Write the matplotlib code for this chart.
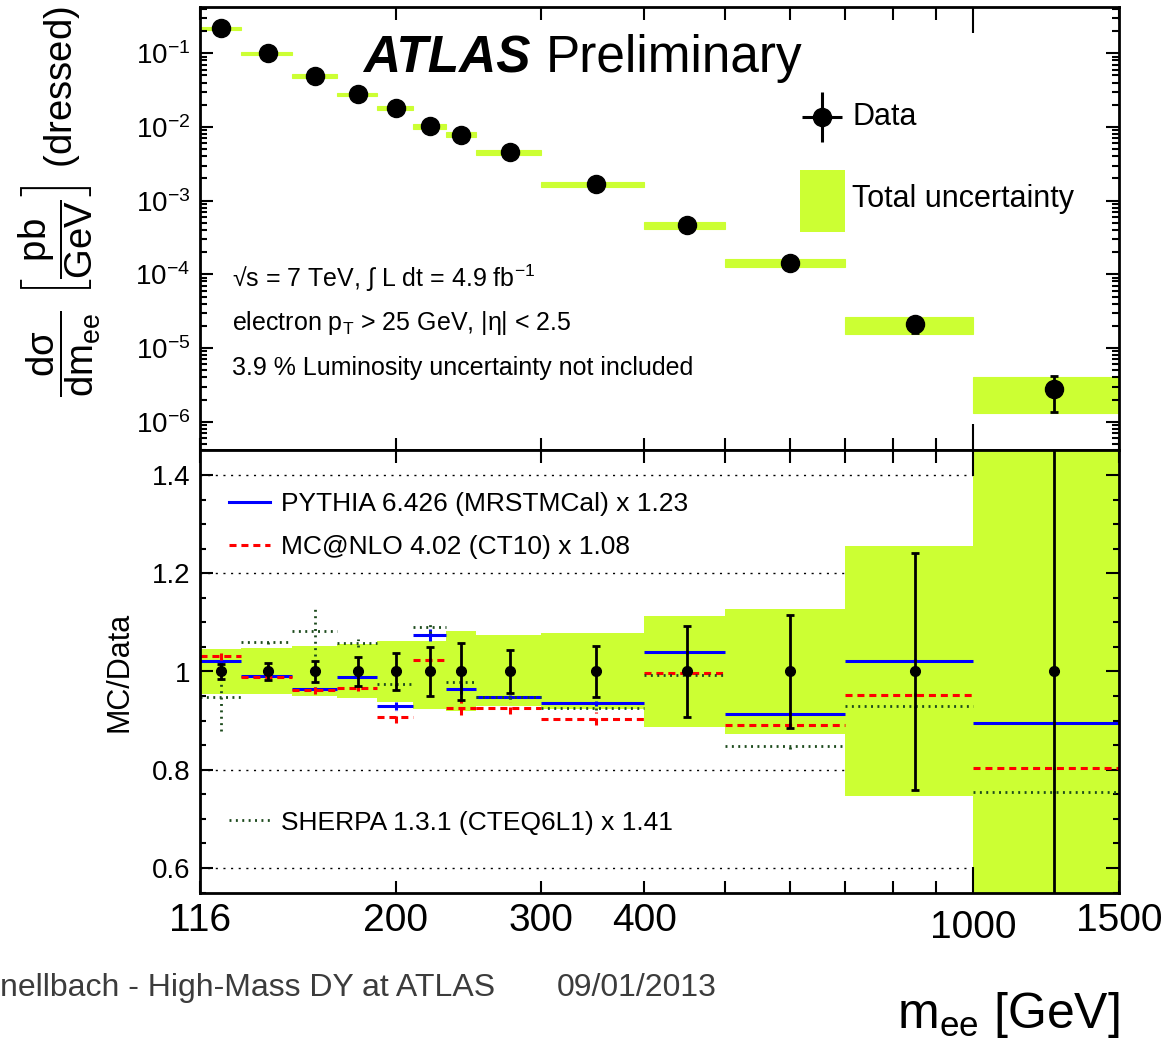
import matplotlib
matplotlib.use('Agg')
import matplotlib.pyplot as plt
import numpy as np
from matplotlib import font_manager
from matplotlib.lines import Line2D
from matplotlib.patches import Rectangle
from matplotlib.ticker import (FixedLocator, FuncFormatter, NullFormatter,
                               MultipleLocator, LogLocator)

# m_ee bin edges [GeV]
edges = [116, 130, 150, 170, 190, 210, 230, 250, 300, 400, 500, 700, 1000, 1500]

# dsigma/dm_ee [pb/GeV]
xsec = [0.218, 0.100, 0.0492, 0.0277, 0.0182, 0.0103, 0.0079, 0.00453,
        0.00168, 4.62e-4, 1.42e-4, 2.09e-5, 2.75e-6]

# relative statistical error of data
stat_rel = [0.016, 0.017, 0.022, 0.030, 0.038, 0.050, 0.058, 0.044,
            0.052, 0.093, 0.115, 0.241, 0.50]

# total uncertainty band (ratio to data)
band_hi = [1.045, 1.047, 1.051, 1.055, 1.063, 1.063, 1.083, 1.074,
           1.078, 1.113, 1.128, 1.255, 1.46]
band_lo = [0.955, 0.955, 0.950, 0.946, 0.938, 0.924, 0.919, 0.929,
           0.923, 0.887, 0.873, 0.746, 0.48]

data_ratio = [1.0] * 13

# MC / Data
pythia = [1.021, 0.990, 0.965, 0.989, 0.929, 1.074, 0.965, 0.949,
          0.935, 1.039, 0.914, 1.022, 0.896]
pythia_err = [0.005, 0.003, 0.004, 0.004, 0.008, 0.012, 0.010, 0.004,
              0.005, 0.003, 0.003, 0.003, 0.003]
mcnlo = [1.031, 0.988, 0.962, 0.967, 0.908, 1.024, 0.926, 0.925,
         0.904, 0.996, 0.891, 0.953, 0.803]
mcnlo_err = [0.008, 0.004, 0.008, 0.006, 0.012, 0.004, 0.015, 0.012,
             0.013, 0.003, 0.004, 0.003, 0.003]
sherpa = [0.948, 1.060, 1.083, 1.058, 0.974, 1.091, 0.979, 0.948,
          0.925, 0.992, 0.848, 0.929, 0.755]
sherpa_err = [0.070, 0.004, 0.052, 0.009, 0.004, 0.012, 0.006, 0.004,
              0.004, 0.003, 0.006, 0.003, 0.003]

xsec_ticks = [1e-6, 1e-5, 1e-4, 1e-3, 1e-2, 1e-1]
ratio_ticks = [0.6, 0.8, 1.0, 1.2, 1.4]
ratio_grid = [0.6, 0.8, 1.2, 1.4]
label_ticks = [116, 200, 300, 400, 1500]
minor_ticks = [116, 200, 300, 400, 500, 600, 700, 800, 900, 1500]

LIME = '#ccff33'
SHERPA_GREEN = '#1c4a1c'

plt.rcParams['font.family'] = ['Liberation Sans', 'DejaVu Sans']
plt.rcParams['mathtext.fontset'] = 'custom'
plt.rcParams['mathtext.rm'] = 'Liberation Sans'
plt.rcParams['mathtext.it'] = 'Liberation Sans:italic'
plt.rcParams['mathtext.bf'] = 'Liberation Sans:bold'
plt.rcParams['mathtext.sf'] = 'Liberation Sans'

installed = {f.name for f in font_manager.fontManager.ttflist}
footer_font = 'Liberation Sans Narrow' if 'Liberation Sans Narrow' in installed else 'Liberation Sans'
footer_size = 27 if footer_font == 'Liberation Sans Narrow' else 23

edges = np.array(edges, dtype=float)
lo_edges = edges[:-1]
widths = np.diff(edges)
centers = 0.5 * (edges[:-1] + edges[1:])
xsec = np.array(xsec)
band_hi = np.array(band_hi)
band_lo = np.array(band_lo)
stat_rel = np.array(stat_rel)

fig = plt.figure(figsize=(11.67, 10.44), dpi=100)
ax1 = fig.add_axes([200 / 1167, 1 - 450 / 1044, 919 / 1167, 443 / 1044])
ax2 = fig.add_axes([200 / 1167, 1 - 893 / 1044, 919 / 1167, 443 / 1044])

# ---- upper panel: cross section ----
ax1.bar(lo_edges, xsec * (band_hi - band_lo), bottom=xsec * band_lo, width=widths,
        align='edge', color=LIME, edgecolor=LIME, linewidth=0.8, zorder=1)
ax1.errorbar(centers, xsec, yerr=xsec * stat_rel, fmt='o', color='black', ms=13,
             elinewidth=2, capsize=3, capthick=2, zorder=3)
ax1.set_xscale('log')
ax1.set_yscale('log')
ax1.set_xlim(116, 1500)
ax1.set_ylim(4.13e-7, 0.425)
ax1.yaxis.set_major_locator(FixedLocator(xsec_ticks))
ax1.yaxis.set_minor_locator(LogLocator(base=10, subs=np.arange(2, 10)))
ax1.yaxis.set_minor_formatter(NullFormatter())

ax1.text(0.177, 0.883, 'ATLAS', transform=ax1.transAxes, fontsize=37,
         fontweight='bold', fontstyle='italic', ha='left', va='center')
ax1.text(0.3765, 0.883, 'Preliminary', transform=ax1.transAxes, fontsize=37,
         ha='left', va='center')

info = ['\u221as = 7 TeV, \u222b L dt = 4.9 fb$^{-1}$',
        r'electron p$_{\mathrm{T}}$ > 25 GeV, |$\mathrm{\eta}$| < 2.5',
        '3.9 % Luminosity uncertainty not included']
for i, line in enumerate(info):
    ax1.text(0.0348, 0.388 - i * 0.1016, line, transform=ax1.transAxes,
             fontsize=18, ha='left', va='center')

# legend of upper panel
ax1.errorbar([0.677], [0.752], xerr=[0.0218], yerr=[0.056], transform=ax1.transAxes,
             fmt='o', color='black', ms=13, elinewidth=2.2, capsize=0, clip_on=False)
ax1.text(0.7095, 0.752, 'Data', transform=ax1.transAxes, fontsize=22, va='center')
ax1.add_patch(Rectangle((0.653, 0.492), 0.049, 0.14, transform=ax1.transAxes,
                        color=LIME, linewidth=0))
ax1.text(0.7095, 0.567, 'Total uncertainty', transform=ax1.transAxes, fontsize=22,
         va='center')

# ---- lower panel: MC / data ----
for v in ratio_grid:
    ax2.axhline(v, color='black', lw=1, ls=(0, (1.5, 4)), zorder=0.5)
ax2.bar(lo_edges, band_hi - band_lo, bottom=band_lo, width=widths, align='edge',
        color=LIME, linewidth=0, zorder=1)

styles = [
    (pythia, pythia_err, 'blue', '-', 'PYTHIA 6.426 (MRSTMCal) x 1.23'),
    (mcnlo, mcnlo_err, 'red', (0, (2.3, 1.6)), 'MC@NLO 4.02 (CT10) x 1.08'),
    (sherpa, sherpa_err, SHERPA_GREEN, (0, (0.7, 1.6)), 'SHERPA 1.3.1 (CTEQ6L1) x 1.41'),
]
handles = []
for vals, errs, col, ls, lab in styles:
    vals = np.array(vals)
    errs = np.array(errs)
    lw = 2.0 if col == SHERPA_GREEN else 2.2
    ax2.hlines(vals, lo_edges, edges[1:], colors=col, linestyles=[ls], lw=lw, zorder=2)
    ax2.vlines(centers, vals - errs, vals + errs, colors=col, linestyles=[ls], lw=lw, zorder=2)
    handles.append(Line2D([], [], color=col, ls=ls, lw=lw, label=lab))

ax2.errorbar(centers, data_ratio, yerr=stat_rel, fmt='o', color='black', ms=7,
             elinewidth=2, capsize=3, capthick=2, zorder=3)

ax2.set_xscale('log')
ax2.set_xlim(116, 1500)
ax2.set_ylim(0.549, 1.451)

leg1 = ax2.legend(handles=handles[:2], loc='upper left', bbox_to_anchor=(0.032, 0.905),
                  frameon=False, fontsize=19, handlelength=1.55, handletextpad=0.4,
                  labelspacing=0.72, borderpad=0, borderaxespad=0)
ax2.add_artist(leg1)
ax2.legend(handles=handles[2:], loc='upper left', bbox_to_anchor=(0.032, 0.186),
           frameon=False, fontsize=19, handlelength=1.55, handletextpad=0.4,
           borderpad=0, borderaxespad=0)

ax2.set_ylabel('MC/Data', fontsize=22, labelpad=12)

# ---- ticks and frames ----
for ax in (ax1, ax2):
    ax.xaxis.set_major_locator(FixedLocator([1000]))
    ax.xaxis.set_minor_locator(FixedLocator(minor_ticks))
    ax.tick_params(axis='x', which='major', direction='in', length=19, width=1.5,
                   top=True, bottom=True)
    ax.tick_params(axis='x', which='minor', direction='in', length=9, width=1.5,
                   top=True, bottom=True)
    ax.tick_params(axis='y', which='major', direction='in', length=9.5, width=1.5,
                   left=True, right=True, labelsize=20, pad=7)
    ax.tick_params(axis='y', which='minor', direction='in', length=5, width=1.5,
                   left=True, right=True)
    for sp in ax.spines.values():
        sp.set_linewidth(2)
        sp.set_zorder(5)

ax1.xaxis.set_major_formatter(NullFormatter())
ax1.xaxis.set_minor_formatter(NullFormatter())

ax2.xaxis.set_major_formatter(FuncFormatter(lambda v, p: '%d' % v))
ax2.xaxis.set_minor_formatter(FuncFormatter(
    lambda v, p: '%d' % v if int(round(v)) in label_ticks else ''))
ax2.tick_params(axis='x', which='major', labelsize=28, pad=12)
ax2.tick_params(axis='x', which='minor', labelsize=28, pad=7)

ax2.yaxis.set_major_locator(FixedLocator(ratio_ticks))
ax2.yaxis.set_minor_locator(MultipleLocator(0.05))
ax2.yaxis.set_major_formatter(FuncFormatter(lambda v, p: '%g' % v))
ax2.yaxis.set_minor_formatter(NullFormatter())
ax2.tick_params(axis='y', which='major', labelsize=20)
ax2.tick_params(axis='y', which='minor', length=4.5)

# axis titles
fig.text(60 / 1167, 1 - 202 / 1044,
         r'$\dfrac{\mathrm{d\sigma}}{\mathrm{dm_{ee}}}\ \left[\dfrac{\mathrm{pb}}{\mathrm{GeV}}\right]$ (dressed)',
         rotation=90, fontsize=27.5, ha='center', va='center')
fig.text(1120 / 1167, 1 - 1015 / 1044, r'm$_{\mathrm{ee}}$ [GeV]', fontsize=36,
         ha='right', va='center')

# footer
fig.text(0.0, 1 - 988 / 1044, 'nellbach - High-Mass DY at ATLAS', fontsize=footer_size,
         family=footer_font, color='#3c3c3c', ha='left', va='center')
fig.text(557 / 1167, 1 - 988 / 1044, '09/01/2013', fontsize=footer_size,
         family=footer_font, color='#3c3c3c', ha='left', va='center')

fig.savefig('out.png', dpi=100)
